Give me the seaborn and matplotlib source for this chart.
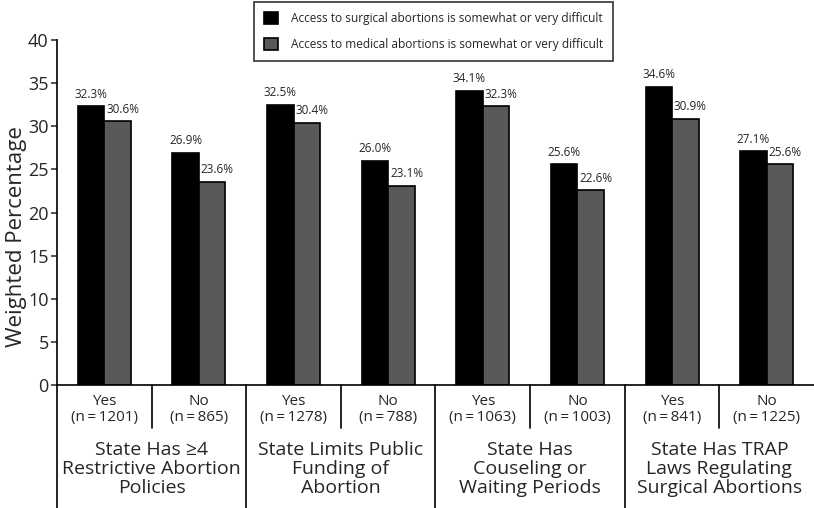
import matplotlib
matplotlib.use("Agg")
import matplotlib.pyplot as plt
import matplotlib.transforms as mtransforms
import pandas as pd
import seaborn as sns

# data
groups = ["State Has \u22654\nRestrictive Abortion\nPolicies",
          "State Limits Public\nFunding of\nAbortion",
          "State Has\nCouseling or\nWaiting Periods",
          "State Has TRAP\nLaws Regulating\nSurgical Abortions"]
answers = ["Yes", "No"]
n_sizes = [1201, 865, 1278, 788, 1063, 1003, 841, 1225]
surgical = [32.3, 26.9, 32.5, 26.0, 34.1, 25.6, 34.6, 27.1]
medical = [30.6, 23.6, 30.4, 23.1, 32.3, 22.6, 30.9, 25.6]
series = ["Access to surgical abortions is somewhat or very difficult",
          "Access to medical abortions is somewhat or very difficult"]

cats = [f"c{i}" for i in range(len(n_sizes))]
df = pd.DataFrame({
    "cat": cats * 2,
    "value": surgical + medical,
    "series": [series[0]] * len(cats) + [series[1]] * len(cats),
})

sns.set_theme(style="white")
plt.rcParams["font.family"] = ["Open Sans", "DejaVu Sans"]

fig = plt.figure(figsize=(8.14, 5.08), dpi=100)
ax = fig.add_axes([0.070, 0.2421, 0.930, 0.679])

sns.barplot(data=df, x="cat", y="value", hue="series", order=cats,
            hue_order=series, palette=["#000000", "#595959"],
            width=0.56, gap=0, edgecolor="black", linewidth=1.2,
            errorbar=None, ax=ax)

# black labels centred, grey labels start at the bar's left edge
ax.bar_label(ax.containers[0], fmt="%.1f%%", padding=4, fontsize=8.5)
texts = ax.bar_label(ax.containers[1], fmt="%.1f%%", padding=4, fontsize=8.5)
for t, p in zip(texts, ax.containers[1]):
    t.xy = (p.get_x() + 0.02, p.get_height())
    t.set_ha("left")

ax.set_xlim(-0.5, len(cats) - 0.5)
ax.set_ylim(0, 40)
ax.set_yticks(range(0, 41, 5))
ax.tick_params(axis="y", left=True, length=4, width=1.1, labelsize=13, pad=2)
ax.set_xticks([])
ax.set_xlabel("")
ax.set_ylabel("Weighted Percentage", fontsize=16)
ax.yaxis.set_label_coords(-0.039, 0.43)
for s in ["top", "right"]:
    ax.spines[s].set_visible(False)
for s in ["left", "bottom"]:
    ax.spines[s].set_linewidth(1.2)
    ax.spines[s].set_color("black")

# category table below the axis
trans = mtransforms.blended_transform_factory(ax.transData, ax.transAxes)
fig_bottom = -0.2421 / 0.679
ax.plot([-0.5, -0.5], [0, fig_bottom], transform=trans, color="black",
        lw=1.2, clip_on=False)
for i in range(len(cats)):
    ax.text(i, -0.025, f"{answers[i % 2]}\n(n\u2009=\u2009{n_sizes[i]})",
            transform=trans, ha="center", va="top", fontsize=11,
            linespacing=1.15)
    if i % 2 == 0:
        ax.plot([i + 0.5, i + 0.5], [0, -0.125], transform=trans,
                color="black", lw=1.2, clip_on=False)
    elif i < len(cats) - 1:
        ax.plot([i + 0.5, i + 0.5], [0, fig_bottom], transform=trans,
                color="black", lw=1.2, clip_on=False)
for g, label in enumerate(groups):
    ax.text(2 * g + 0.5, -0.243, label, transform=trans, ha="center",
            va="center", fontsize=14, linespacing=1.08)

leg = ax.legend(loc="upper center", bbox_to_anchor=(0.5326, 0.997),
                bbox_transform=fig.transFigure, fontsize=8.6, frameon=True,
                handlelength=1.2, handleheight=1.2, labelspacing=1.1,
                borderpad=0.85, borderaxespad=0, handletextpad=1.1,
                fancybox=False)
leg.get_frame().set_edgecolor("black")
leg.get_frame().set_linewidth(1.2)

fig.savefig("out.png", dpi=100)
